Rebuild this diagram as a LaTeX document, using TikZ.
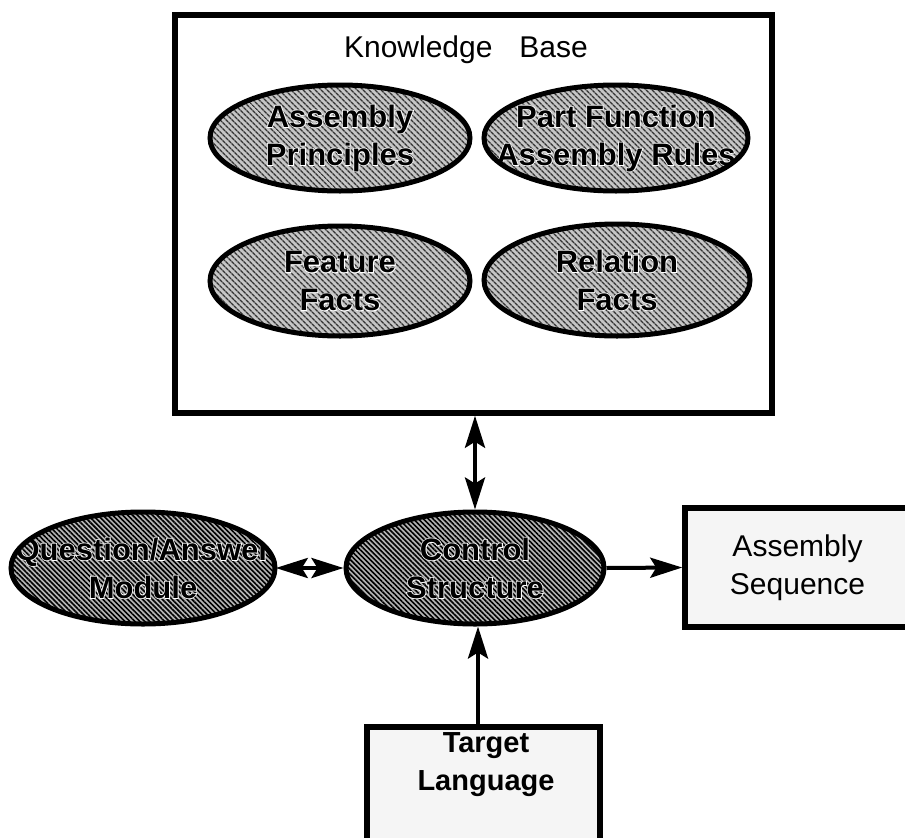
\documentclass[tikz,border=0pt]{standalone}
\usepackage{fontspec}
\setmainfont{Liberation Sans}
% emboldened face, set in white underneath the ellipse labels as their rim
\newfontface\rimfont[FakeBold=5]{Liberation Sans Bold}
\usetikzlibrary{shapes.geometric,arrows.meta,patterns.meta}

\tikzset{
  every picture/.style={x=1pt,y=-1pt},
  rimtext/.style={font=\rimfont\fontsize{31}{38}\selectfont, text=white,
    align=center, inner sep=0pt},
  blobtext/.style={font=\fontsize{31}{38}\selectfont\bfseries, text=black,
    align=center, inner sep=0pt},
  labelled/.style={path picture={
    \node[rimtext] at (path picture bounding box.center) {#1};
    \node[blobtext] at (path picture bounding box.center) {#1};}},
  blob/.style={ellipse, draw, line width=5pt, inner sep=0pt,
    preaction={fill=gray!45},
    pattern={Lines[angle=-45,distance=4pt,line width=1.4pt]}, pattern color=black!80,
    labelled={#1}},
  darkblob/.style={ellipse, draw, line width=5pt, inner sep=0pt,
    preaction={fill=gray!58},
    pattern={Lines[angle=-45,distance=3.5pt,line width=1.6pt]}, pattern color=black,
    labelled={#1}},
  panel/.style={rectangle, draw, line width=5.5pt, inner sep=0pt},
  plain/.style={font=\fontsize{30}{38}\selectfont, align=center, inner sep=0pt},
  flow/.style={line width=4pt, -{Stealth[length=32pt,width=20pt,inset=6pt]}},
  dflow/.style={line width=4pt, {Stealth[length=32pt,width=20pt,inset=6pt]}-{Stealth[length=32pt,width=20pt,inset=6pt]}},
}

\begin{document}
\begin{tikzpicture}
\clip (0,0) rectangle (905,838);
\fill[white] (0,0) rectangle (905,838);

% knowledge base container and its four fact sources
\node[panel, fill=white, minimum width=597pt, minimum height=398pt] (kb) at (473.5,214) {};
\node[plain] (kbtitle) at (466,50) {Knowledge\hspace{0.9em}Base};

\node[blob={Assembly\\Principles}, minimum width=260pt, minimum height=106pt] (ap) at (340,138) {};
\node[blob={Part Function\\Assembly Rules}, minimum width=264pt, minimum height=106pt] (pf) at (616,138) {};
\node[blob={Feature\\Facts}, minimum width=260pt, minimum height=110pt] (ff) at (340,281) {};
\node[blob={Relation\\Facts}, minimum width=266pt, minimum height=112pt] (rf) at (617,280) {};

% central row
\node[darkblob={Question/Answer\\Module}, minimum width=264pt, minimum height=112pt] (qa) at (143,568) {};
\node[darkblob={Control\\Structure}, minimum width=258pt, minimum height=112pt] (cs) at (475,568) {};
\node[panel, fill=black!4, minimum width=225pt, minimum height=119pt, plain] (as) at (797.5,567.5) {Assembly\\Sequence};

% input language at the bottom
\node[panel, fill=black!4, minimum width=233pt, minimum height=140pt] (tl) at (483.5,797) {};
\node[plain, font=\fontsize{29}{38}\selectfont\bfseries] (tltext) at (486,765) {Target\\Language};

% connectors
\draw[dflow] (cs.north |- kb.south) -- (cs.north);
\draw[dflow] (qa.east) -- (cs.west);
\draw[flow] (cs.east) -- (as.west);
\draw[flow] ([xshift=3pt]cs.south |- tl.north) -- ([xshift=3pt]cs.south);
\end{tikzpicture}
\end{document}
